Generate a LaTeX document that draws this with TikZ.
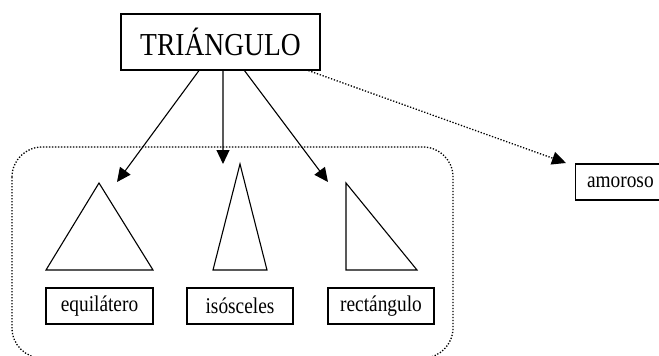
\documentclass[tikz,border=0pt]{standalone}
\usepackage{fontspec}
\setmainfont{Liberation Serif}[FakeStretch=0.86]
\usetikzlibrary{arrows.meta}

\begin{document}
\begin{tikzpicture}[x=1pt,y=1pt,line width=1.1pt,
  box/.style={draw,line width=1.1pt,minimum height=36pt,inner xsep=10pt,font=\fontsize{22.5}{24}\selectfont},
  tip/.style={-{Triangle[length=14pt,width=13pt]}},
  dots/.style={line width=1.3pt,dash pattern=on 1.3pt off 1.7pt}]
\useasboundingbox (0,0) rectangle (659,-356);
\clip (0,0) rectangle (659,-356);
\draw [dots, rounded corners=30pt] (12,-147) rectangle (453,-358);
\node [draw, minimum width=199pt, minimum height=56pt, font=\fontsize{32}{34}\selectfont] (triangulo) at (220.5,-42) {TRIÁNGULO};
\node [box, minimum width=107pt] (equilatero) at (99.5,-306) {equilátero};
\node [box, minimum width=106pt] (isosceles) at (240,-306) {isósceles};
\node [box, minimum width=106pt] (rectangulo) at (381,-306) {rectángulo};
\node [box, anchor=west, minimum width=95pt, align=left, text width=72pt] (amoroso) at (575,-182) {amoroso};
\draw (46,-270) -- (99,-183) -- (153,-270) -- cycle;
\draw (213,-270) -- (240,-164) -- (267,-270) -- cycle;
\draw (346,-183) -- (346,-270) -- (417,-270) -- cycle;
\coordinate (equi top) at (117,-182);
\coordinate (iso top) at (223,-164);
\coordinate (rect top) at (328,-182);
\coordinate (amor top) at (566,-163);
\draw [tip] (triangulo.233.8) -- (equi top);
\draw [tip] (triangulo.275) -- (iso top);
\draw [tip] (triangulo.310) -- (rect top);
\draw [tip, dots] (triangulo.342) -- (amor top);
\end{tikzpicture}
\end{document}
